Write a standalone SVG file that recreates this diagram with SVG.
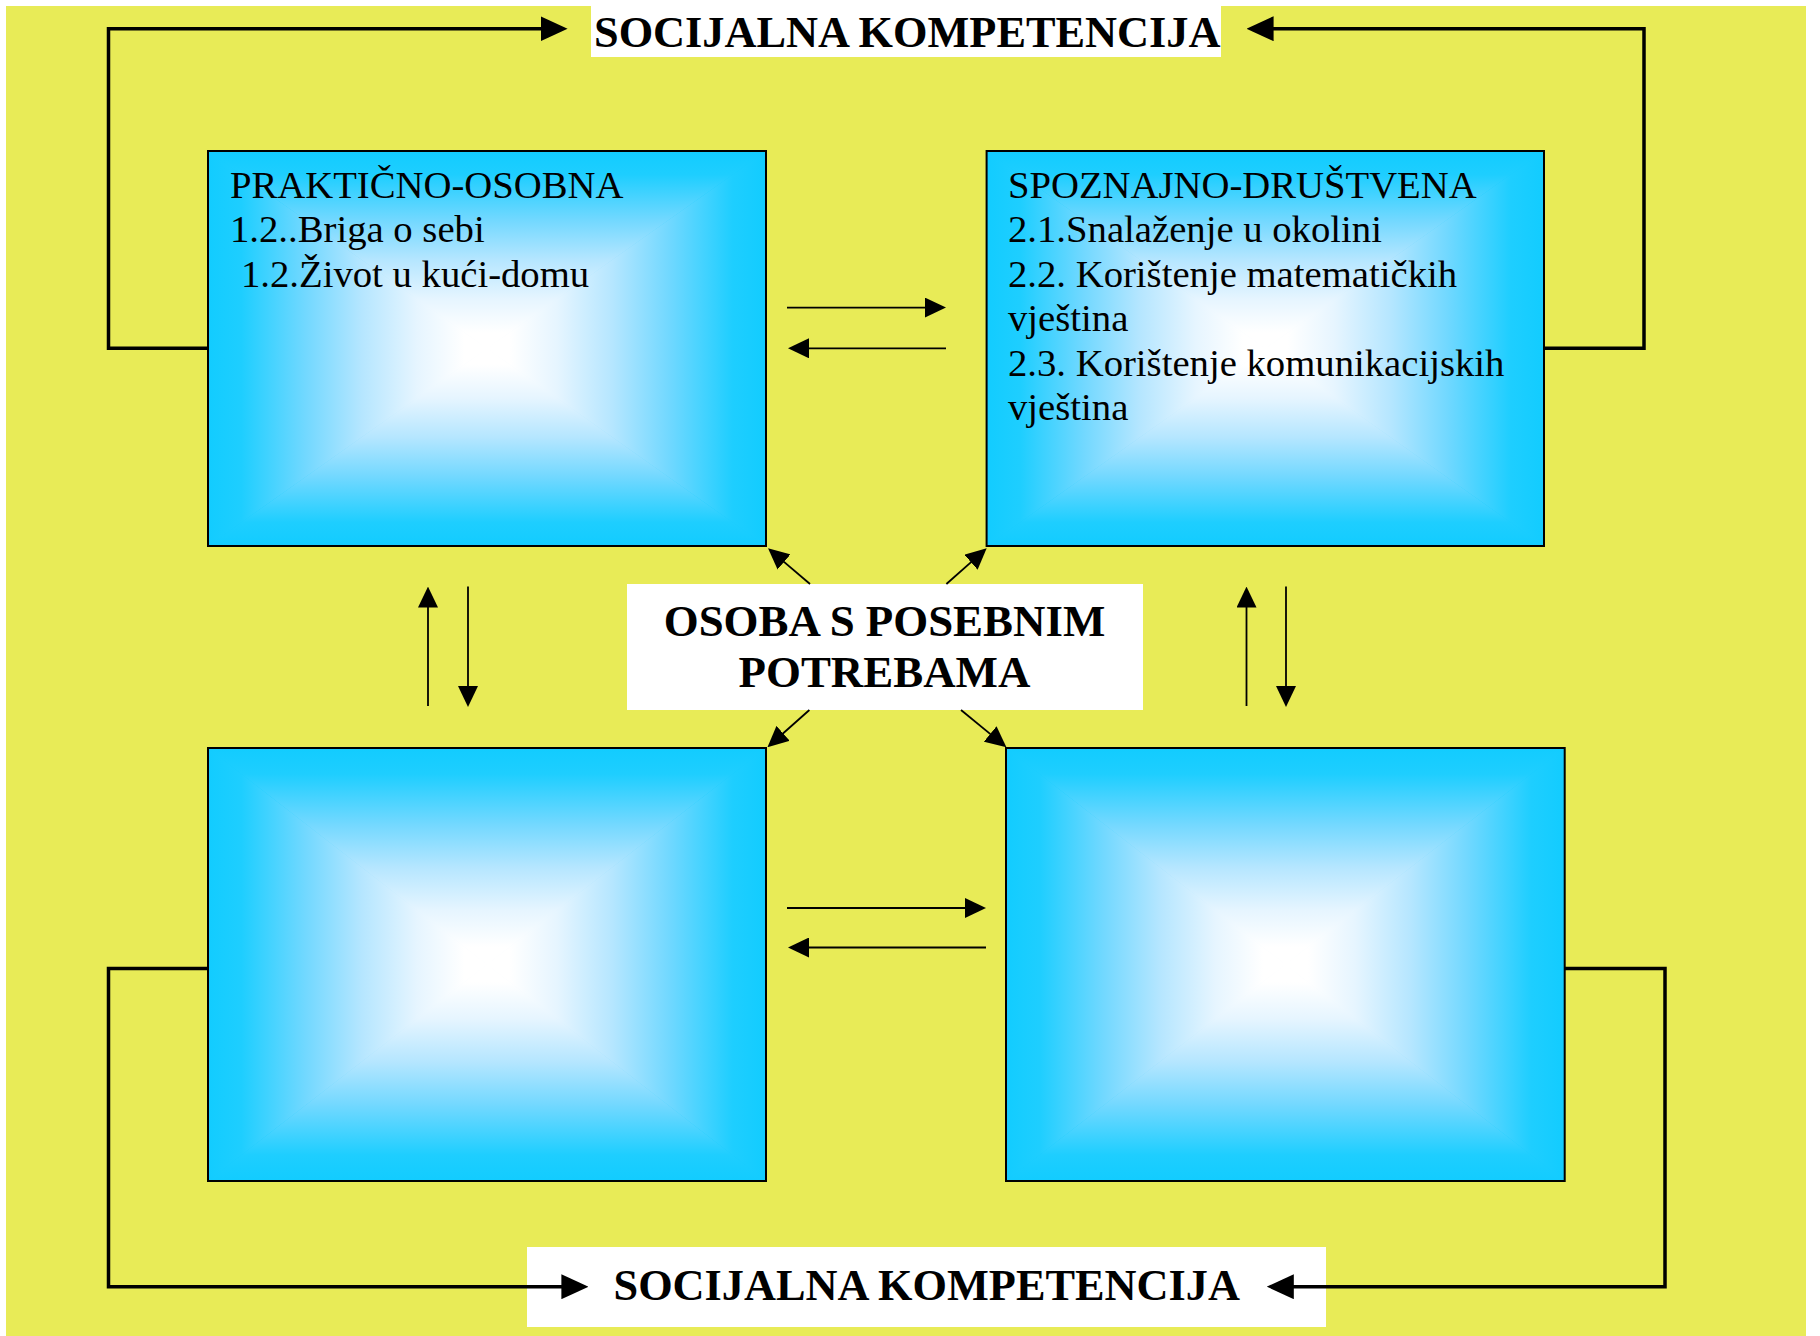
<svg xmlns="http://www.w3.org/2000/svg" width="1820" height="1336" viewBox="0 0 1820 1336">
<style>
.txt{font-family:"Liberation Serif","Times New Roman",serif;fill:#000}
.title{font-size:44.3px;font-weight:bold}
.center{font-size:44.9px;font-weight:bold;text-anchor:middle}
.body{font-size:38.7px}
.frame{fill:none;stroke:#000;stroke-width:2}
.thick{fill:none;stroke:#000;stroke-width:3.5;marker-end:url(#bigArrow)}
.thin{fill:none;stroke:#000;stroke-width:1.8;marker-end:url(#smallArrow)}
.label{fill:#fff}
.under{fill:url(#gRad)}
.gT{fill:url(#gTop)}
.gB{fill:url(#gBot)}
.gL{fill:url(#gLeft)}
.gR{fill:url(#gRight)}
</style>
<defs>
<linearGradient id="gTop" x1="0" y1="0" x2="0" y2="1">
<stop offset="0" stop-color="#12CCFF"/><stop offset="0.12" stop-color="#1ECEFF"/><stop offset="0.35" stop-color="#72D8FF"/><stop offset="0.55" stop-color="#B5E6FF"/><stop offset="0.75" stop-color="#E6F5FF"/><stop offset="0.92" stop-color="#FFFFFF"/><stop offset="1" stop-color="#FFFFFF"/>
</linearGradient>
<linearGradient id="gBot" href="#gTop" x1="0" y1="1" x2="0" y2="0"/>
<linearGradient id="gLeft" href="#gTop" x1="0" y1="0" x2="1" y2="0"/>
<linearGradient id="gRight" href="#gTop" x1="1" y1="0" x2="0" y2="0"/>
<radialGradient id="gRad" cx="0.5" cy="0.5" r="0.55">
<stop offset="0" stop-color="#FFFFFF"/><stop offset="0.3" stop-color="#E6F5FF"/><stop offset="0.6" stop-color="#8FDDFF"/><stop offset="1" stop-color="#12CCFF"/>
</radialGradient>
<marker id="bigArrow" markerUnits="userSpaceOnUse" markerWidth="27" markerHeight="25" refX="7" refY="12.5" orient="auto" viewBox="0 0 27 25">
<path d="M0,0 L27,12.5 L0,25 z" fill="#000"/>
</marker>
<marker id="smallArrow" markerUnits="userSpaceOnUse" markerWidth="21" markerHeight="20" refX="7" refY="10" orient="auto" viewBox="0 0 21 20">
<path d="M0,0 L21,10 L0,20 z" fill="#000"/>
</marker>
</defs>

<rect x="0" y="0" width="1820" height="1336" fill="#fff"/>
<rect x="6" y="6" width="1800" height="1330" fill="#E8EB57"/>

<g id="node-prakticno">
<rect class="under" x="208" y="151" width="558" height="395"/>
<polygon class="gT" points="208,151 766,151 487,348.5"/>
<polygon class="gB" points="208,546 766,546 487,348.5"/>
<polygon class="gL" points="208,151 208,546 487,348.5"/>
<polygon class="gR" points="766,151 766,546 487,348.5"/>
<rect class="frame" x="208" y="151" width="558" height="395"/>
<text class="txt body" x="230" y="197.5">PRAKTIČNO-OSOBNA</text>
<text class="txt body" x="230" y="242">1.2..Briga o sebi</text>
<text class="txt body" x="241" y="286.5">1.2.Život u kući-domu</text>
</g>

<g id="node-spoznajno">
<rect class="under" x="986.6" y="151" width="557.4" height="395"/>
<polygon class="gT" points="986.6,151 1544,151 1265.3,348.5"/>
<polygon class="gB" points="986.6,546 1544,546 1265.3,348.5"/>
<polygon class="gL" points="986.6,151 986.6,546 1265.3,348.5"/>
<polygon class="gR" points="1544,151 1544,546 1265.3,348.5"/>
<rect class="frame" x="986.6" y="151" width="557.4" height="395"/>
<text class="txt body" x="1008" y="197.5">SPOZNAJNO-DRUŠTVENA</text>
<text class="txt body" x="1008" y="242">2.1.Snalaženje u okolini</text>
<text class="txt body" x="1008" y="286.5">2.2. Korištenje matematičkih</text>
<text class="txt body" x="1008" y="331">vještina</text>
<text class="txt body" x="1008" y="375.5">2.3. Korištenje komunikacijskih</text>
<text class="txt body" x="1008" y="420">vještina</text>
</g>

<g id="node-bottom-left">
<rect class="under" x="208" y="748" width="558" height="433"/>
<polygon class="gT" points="208,748 766,748 487,964.5"/>
<polygon class="gB" points="208,1181 766,1181 487,964.5"/>
<polygon class="gL" points="208,748 208,1181 487,964.5"/>
<polygon class="gR" points="766,748 766,1181 487,964.5"/>
<rect class="frame" x="208" y="748" width="558" height="433"/>
</g>

<g id="node-bottom-right">
<rect class="under" x="1006" y="748" width="558.7" height="433"/>
<polygon class="gT" points="1006,748 1564.7,748 1285.35,964.5"/>
<polygon class="gB" points="1006,1181 1564.7,1181 1285.35,964.5"/>
<polygon class="gL" points="1006,748 1006,1181 1285.35,964.5"/>
<polygon class="gR" points="1564.7,748 1564.7,1181 1285.35,964.5"/>
<rect class="frame" x="1006" y="748" width="558.7" height="433"/>
</g>

<g id="node-center">
<rect class="label" x="627" y="584" width="516" height="126"/>
<text class="txt center" x="884.5" y="635.7">OSOBA S POSEBNIM</text>
<text class="txt center" x="884.5" y="686.7">POTREBAMA</text>
</g>

<g id="node-title-top">
<rect class="label" x="591" y="6" width="630" height="51"/>
<text class="txt title" x="594" y="46.7">SOCIJALNA KOMPETENCIJA</text>
</g>

<g id="node-title-bottom">
<rect class="label" x="527" y="1247" width="799" height="80"/>
<text class="txt title" x="613.5" y="1299.5">SOCIJALNA KOMPETENCIJA</text>
</g>

<g id="connectors">
<path class="thick" d="M208,348.3 H108.5 V28.7 H547.6"/>
<path class="thick" d="M1544,348.3 H1644 V28.7 H1266.6"/>
<path class="thick" d="M208,968.5 H108.5 V1286.7 H568.4"/>
<path class="thick" d="M1564.7,968.5 H1665 V1286.7 H1286.8"/>
<path class="thin" d="M787,307.6 H932"/>
<path class="thin" d="M946,348.3 H802"/>
<path class="thin" d="M787,908 H972"/>
<path class="thin" d="M986,947.5 H802"/>
<path class="thin" d="M428,706 V600.6"/>
<path class="thin" d="M468,586.6 V693"/>
<path class="thin" d="M1246.5,706 V600.6"/>
<path class="thin" d="M1286,586.6 V693"/>
<path class="thin" d="M810,584 L778.7,557.4"/>
<path class="thin" d="M946.4,584 L976.2,557.6"/>
<path class="thin" d="M809.4,710 L777.9,738"/>
<path class="thin" d="M961,710 L995.6,738.4"/>
</g>
</svg>
